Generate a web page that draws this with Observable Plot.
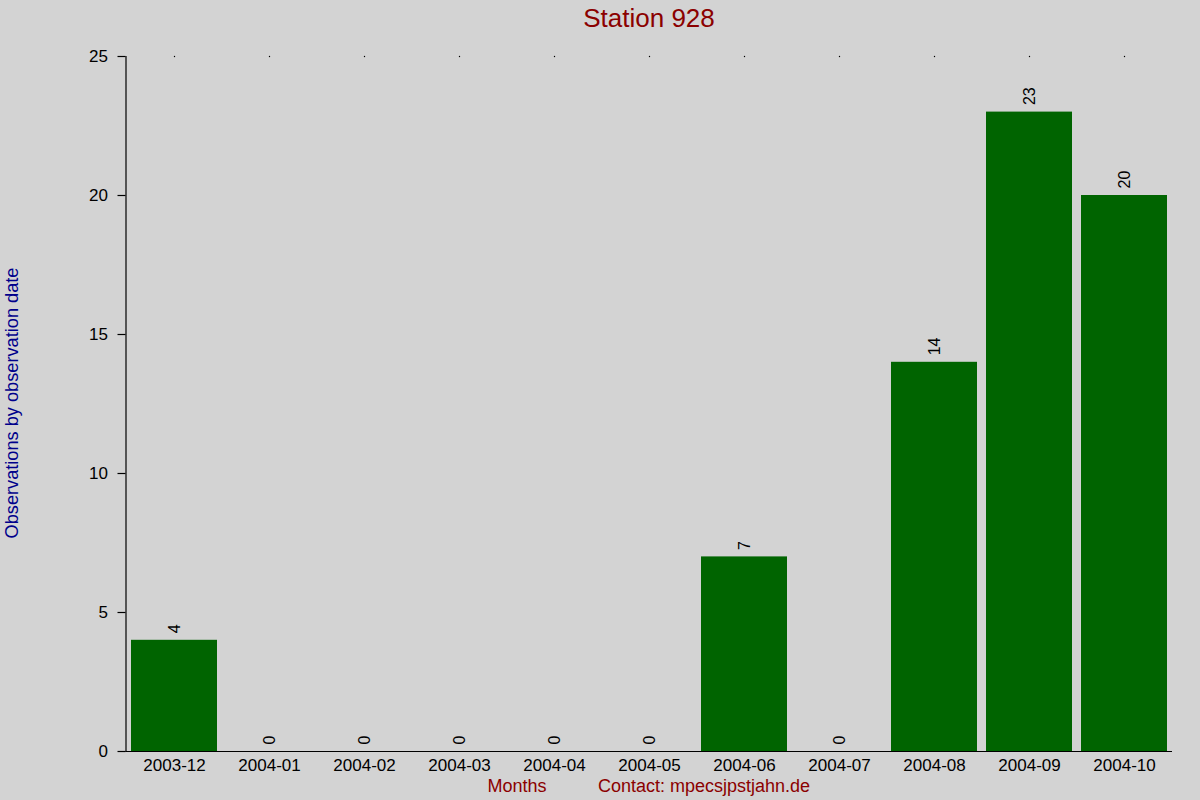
<!DOCTYPE html>
<html>
<head>
<meta charset="utf-8">
<script src="https://cdn.jsdelivr.net/npm/d3@7"></script>
<script src="https://cdn.jsdelivr.net/npm/@observablehq/plot@0.6"></script>
<style>
  html, body { margin: 0; padding: 0; background: #d3d3d3; }
  #wrap { position: relative; width: 1200px; height: 800px; font-family: "Liberation Sans", Arial, sans-serif; }
  #wrap svg { position: absolute; left: 0; top: 0; }
  .lbl { position: absolute; white-space: nowrap; line-height: 1; }
  #title { left: 0; width: 1298px; top: 5px; text-align: center; font-size: 26px; color: #8b0000; }
  #ylab { left: 12px; top: 403px; font-size: 18.2px; color: #00008b; transform: translate(-50%, -50%) rotate(-90deg); }
  #xlab { left: 517px; top: 786px; font-size: 18px; color: #8b0000; transform: translate(-50%, -50%); }
  #contact { left: 704px; top: 786px; font-size: 18px; color: #8b0000; transform: translate(-50%, -50%); }
</style>
</head>
<body>
<div id="wrap">
  <div id="chart"></div>
  <div class="lbl" id="title">Station 928</div>
  <div class="lbl" id="ylab">Observations by observation date</div>
  <div class="lbl" id="xlab">Months</div>
  <div class="lbl" id="contact">Contact: mpecsjpstjahn.de</div>
</div>
<script>
const months = ["2003-12","2004-01","2004-02","2004-03","2004-04","2004-05","2004-06","2004-07","2004-08","2004-09","2004-10"];
const counts = [4, 0, 0, 0, 0, 0, 7, 0, 14, 23, 20];
const yTicks = [0, 5, 10, 15, 20, 25];

const data = months.map((m, i) => ({month: m, count: counts[i]}));

const chart = Plot.plot({
  width: 1200,
  height: 800,
  marginTop: 56,
  marginBottom: 49,
  marginLeft: 125.5,
  marginRight: 28,
  style: {background: "transparent", fontFamily: "Liberation Sans, Arial, sans-serif", color: "#000"},
  x: {type: "band", domain: months, paddingInner: 0.1, paddingOuter: 0.05, label: null},
  y: {domain: [0, 25], label: null},
  marks: [
    Plot.barY(data, {x: "month", y: "count", fill: "#006400"}),
    Plot.frame({anchor: "left", stroke: "#000", strokeWidth: 1.2}),
    Plot.ruleY([0], {stroke: "#000", strokeWidth: 1.2}),
    Plot.axisY(yTicks, {tickSize: 8, tickPadding: 10, fontSize: 17, label: null, stroke: "#000", strokeWidth: 1.2}),
    Plot.axisX(months, {tickSize: 0, tickPadding: 7, fontSize: 17, label: null}),
    Plot.dot(months, {x: d => d, y: () => 25, r: 0.7, fill: "#000", stroke: null}),
    Plot.text(data, {x: "month", y: "count", text: d => String(d.count), rotate: -90, textAnchor: "start", dy: -7, fontSize: 16, fill: "#000"})
  ]
});
document.getElementById("chart").appendChild(chart);
</script>
</body>
</html>
